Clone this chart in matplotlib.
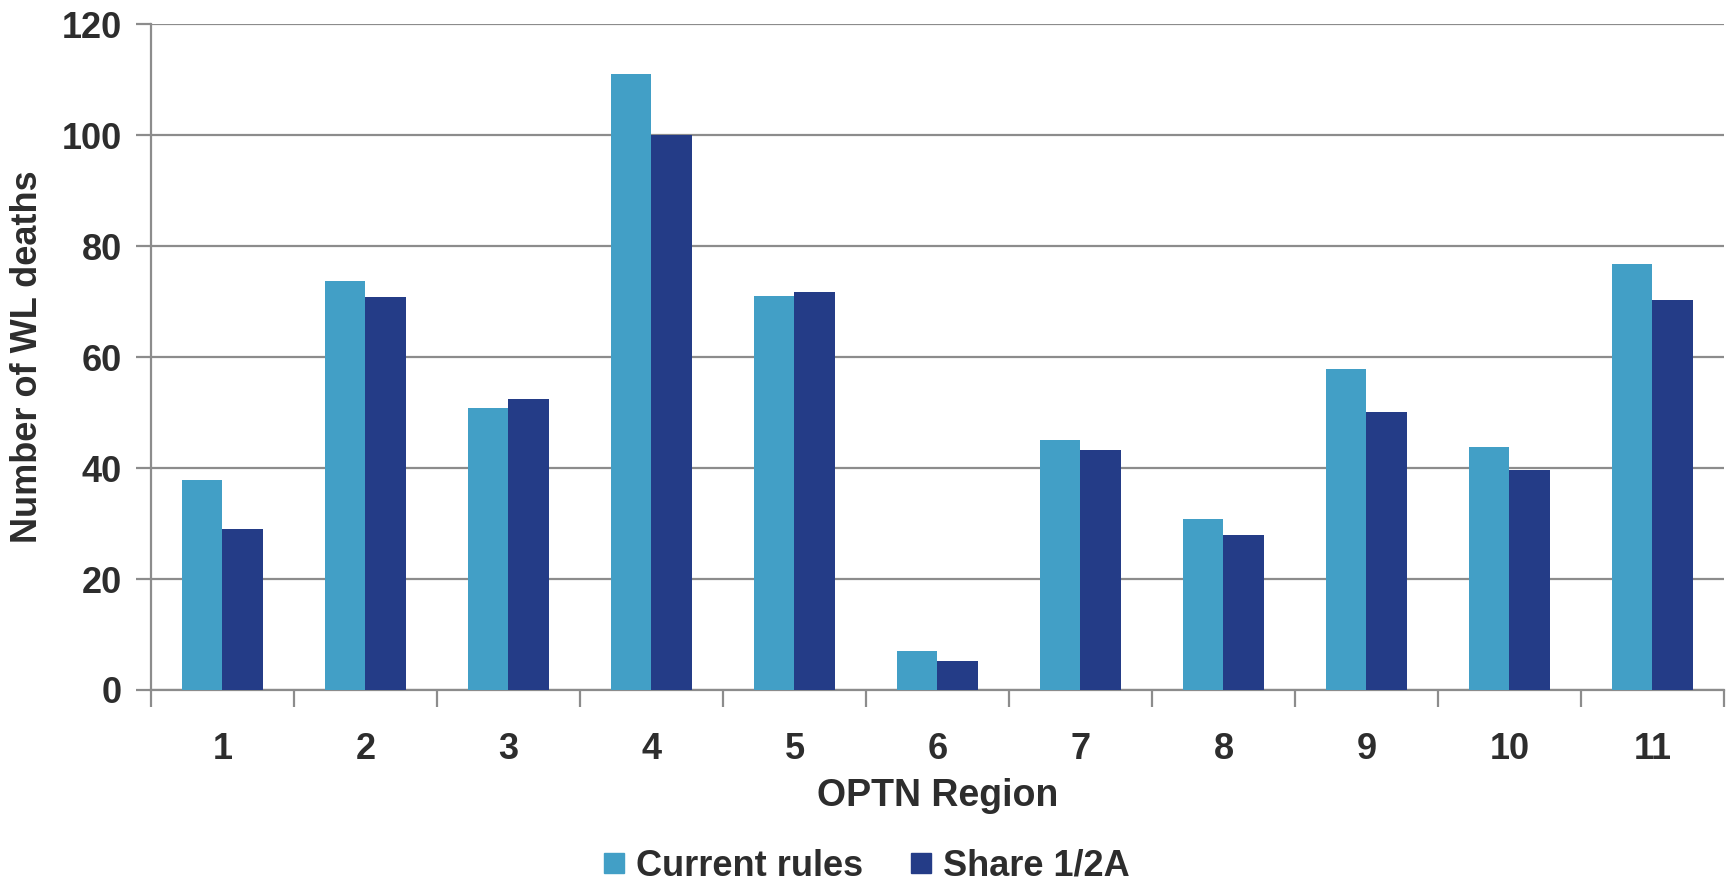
import matplotlib
matplotlib.use("Agg")
import matplotlib.pyplot as plt
import numpy as np
from matplotlib.lines import Line2D

# data
regions = ["1", "2", "3", "4", "5", "6", "7", "8", "9", "10", "11"]
current_rules = [37.9, 73.7, 50.9, 111.0, 71.1, 7.0, 45.1, 30.8, 57.8, 43.8, 76.7]
share_12a = [29.0, 70.9, 52.5, 100.0, 71.7, 5.2, 43.3, 28.0, 50.1, 39.6, 70.3]
series_names = ["Current rules", "Share 1/2A"]
y_ticks = [0, 20, 40, 60, 80, 100, 120]

c_light = "#429FC6"
c_dark = "#243C87"
txt = "#2D2D2D"
grid_c = "#8C8C8C"

plt.rcParams['font.family'] = ['Liberation Sans', 'DejaVu Sans']
plt.rcParams['font.weight'] = 'bold'

fig = plt.figure(figsize=(17.33, 8.83), dpi=100)
ax = fig.add_axes([0.0871, 0.2186, 0.9077, 0.7539])

x = np.arange(len(regions))
w = 0.283
ax.bar(x - w / 2, current_rules, w, color=c_light, zorder=3)
ax.bar(x + w / 2, share_12a, w, color=c_dark, zorder=3)

ax.set_xlim(-0.5, len(regions) - 0.5)
ax.set_ylim(0, 120)
ax.set_yticks(y_ticks)
ax.yaxis.grid(True, color=grid_c, linewidth=1.6, zorder=0)
ax.set_axisbelow(True)

# category labels at centres, tick marks at boundaries
ax.set_xticks(x)
ax.set_xticklabels(regions)
ax.set_xticks(np.arange(-0.5, len(regions)), minor=True)
ax.tick_params(axis='x', which='major', length=0, pad=30, labelsize=26, labelcolor=txt)
ax.tick_params(axis='x', which='minor', length=12, width=1.6, color=grid_c, direction='out')
ax.tick_params(axis='y', length=11, width=1.6, color=grid_c, pad=10, labelsize=26, labelcolor=txt)

for s in ['top', 'right']:
    ax.spines[s].set_visible(False)
for s in ['left', 'bottom']:
    ax.spines[s].set_color(grid_c)
    ax.spines[s].set_linewidth(1.6)

ax.set_xlabel("OPTN Region", fontsize=27, fontweight='bold', color=txt, labelpad=8)
ax.set_ylabel("Number of WL deaths", fontsize=26, fontweight='bold', color=txt, labelpad=12)

handles = [Line2D([], [], marker='s', ls='', markersize=14, color=c)
           for c in [c_light, c_dark]]
leg = fig.legend(handles, series_names, loc='center', bbox_to_anchor=(0.5, 0.019),
                 ncol=2, frameon=False, fontsize=26, handlelength=0.6,
                 handletextpad=0.3, columnspacing=1.3)
for t in leg.get_texts():
    t.set_color(txt)
    t.set_fontweight('bold')

fig.savefig("out.png", dpi=100)
